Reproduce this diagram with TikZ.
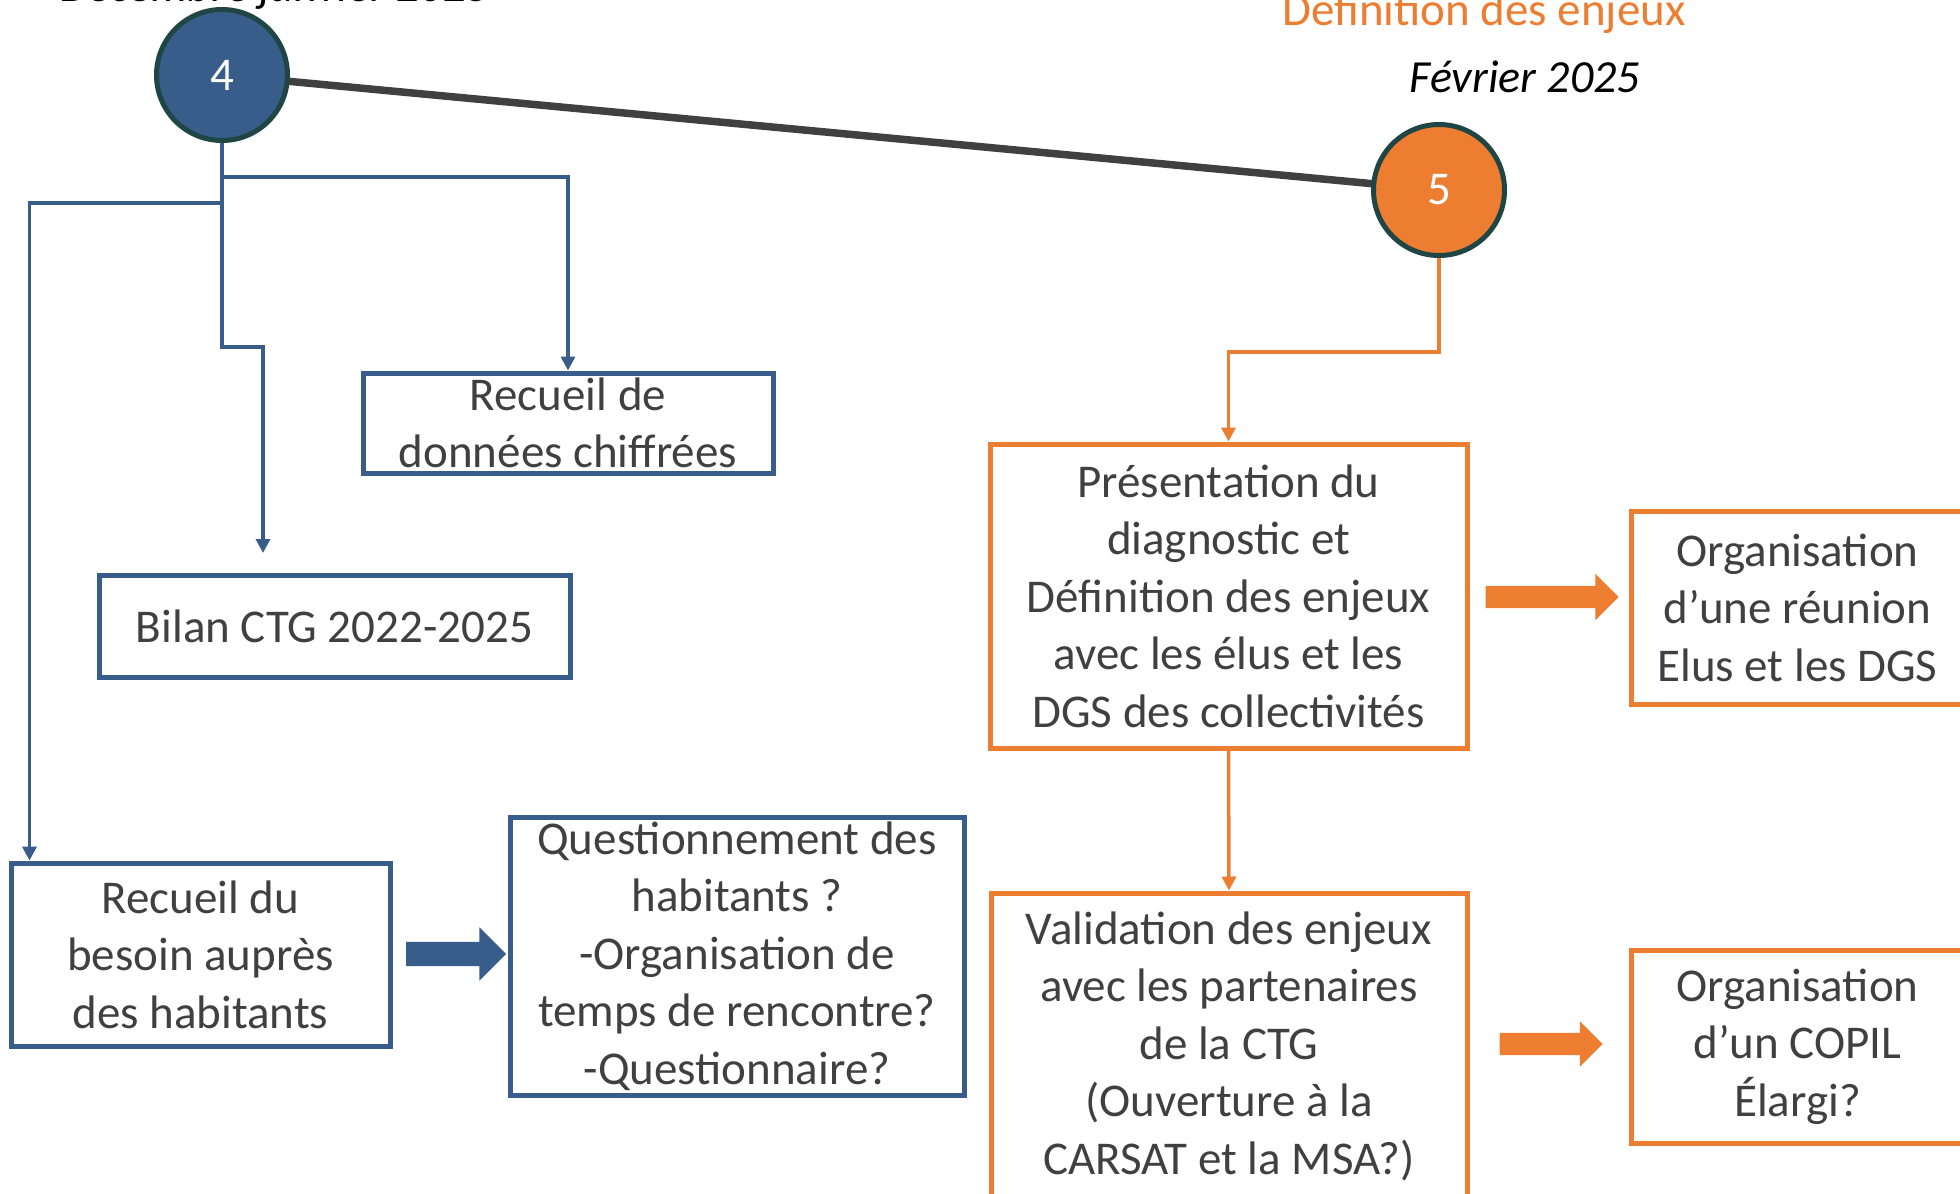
\documentclass[tikz,border=0pt]{standalone}
\usepackage{fontspec}
\setmainfont{Carlito}
\usepackage{xcolor}
\usetikzlibrary{arrows.meta,shapes.arrows}

\definecolor{ctgblue}{HTML}{385D8A}
\definecolor{ctgorange}{HTML}{ED7D31}
\definecolor{ctgteal}{HTML}{1F4544}
\definecolor{ctggray}{HTML}{404040}

\begin{document}
\begin{tikzpicture}[x=1pt,y=-1pt]
\tikzset{every node/.style={font=\fontsize{47}{57.5}\selectfont,text=ctggray}}
\tikzset{txt/.style={align=center,inner sep=0pt}}
\tikzset{bbox/.style={draw=ctgblue,line width=5pt,inner sep=0pt}}
\tikzset{obox/.style={draw=ctgorange,line width=5pt,inner sep=0pt}}
\tikzset{dot/.style={circle,minimum size=131pt,draw=ctgteal,line width=5pt,text=white,inner sep=0pt}}
\tikzset{date/.style={anchor=base,text=black,font=\fontsize{46}{55}\selectfont\itshape}}
\tikzset{bline/.style={draw=ctgblue,line width=3.5pt,-{Triangle[length=14pt,width=14pt]}}}
\tikzset{oline/.style={draw=ctgorange,line width=3.5pt,-{Triangle[length=14pt,width=14pt]}}}
\tikzset{blockarrow/.style={single arrow,single arrow head indent=0pt,inner sep=0pt,draw=none}}

\useasboundingbox (0,0) rectangle (1960,1194);

% dates
\node[date] (dec) at (275,1) {Décembre janvier 2025};
\node[anchor=base,text=ctgorange] (defi) at (1484,25) {Définition des enjeux};
\node[date] (fev) at (1525,92) {Février 2025};

% timeline
\draw[ctggray,line width=7.5pt] (222,75) -- (1439,190);
\node[dot,fill=ctgblue] (c4) at (222,75) {4};
\node[dot,fill=ctgorange] (c5) at (1439,190) {5};

% blue side
\node[bbox,minimum width=410pt,minimum height=100pt] (donnees) at (568,423) {};
\node[txt] (donnees-t) at (donnees) {Recueil de\\données chiffrées};
\node[bbox,minimum width=471pt,minimum height=102pt] (bilan) at (334.5,626) {};
\node[txt] (bilan-t) at (bilan) {Bilan CTG 2022-2025};
\node[bbox,minimum width=379pt,minimum height=183pt] (besoin) at (200.5,954.5) {};
\node[txt] (besoin-t) at (besoin) {Recueil du\\besoin auprès\\des habitants};
\node[bbox,minimum width=454pt,minimum height=278pt] (quest) at (737,956) {};
\node[txt] (quest-t) at (quest) {Questionnement des\\habitants ?\\-Organisation de\\temps de rencontre?\\-Questionnaire?};
\node[blockarrow,fill=ctgblue,minimum height=100pt,inner ysep=12pt,single arrow head extend=14.5pt] (a1) at (450,954) {};

\coordinate (j1) at (222,177);
\coordinate (j2) at (222,203);
\coordinate (k1) at (263,347);
\coordinate (b1) at (263,553);
\draw[bline] (c4.south) |- (k1) -- (b1);
\draw[bline] (j1) -| (donnees.north);
\draw[bline] (j2) -| ([xshift=21pt]besoin.north west);

% orange side
\node[obox,minimum width=477pt,minimum height=304pt] (pres) at (1228.5,596) {};
\node[txt] (pres-t) at (pres) {Présentation du\\diagnostic et\\Définition des enjeux\\avec les élus et les\\DGS des collectivités};
\node[obox,minimum width=333pt,minimum height=193pt] (reunion) at (1797.5,607.5) {};
\node[txt] (reunion-t) at (reunion) {Organisation\\d’une réunion\\Elus et les DGS};
\node[obox,minimum width=476pt,minimum height=306pt] (valid) at (1229,1046) {};
\node[txt] (valid-t) at (valid) {Validation des enjeux\\avec les partenaires\\de la CTG\\(Ouverture à la\\CARSAT et la MSA?)};
\node[obox,minimum width=333pt,minimum height=193pt] (copil) at (1797.5,1046.5) {};
\node[txt] (copil-t) at (copil) {Organisation\\d’un COPIL\\Élargi?};
\node[blockarrow,fill=ctgorange,minimum height=133pt,inner ysep=11pt,single arrow head extend=12pt] (a2) at (1546.5,597) {};
\node[blockarrow,fill=ctgorange,minimum height=103pt,inner ysep=11pt,single arrow head extend=11.5pt] (a3) at (1545.5,1044) {};

\draw[oline] (c5.south) -- ++(0,94) -| (pres.north);
\draw[oline] (pres.south) -- (valid.north);

\end{tikzpicture}
\end{document}
